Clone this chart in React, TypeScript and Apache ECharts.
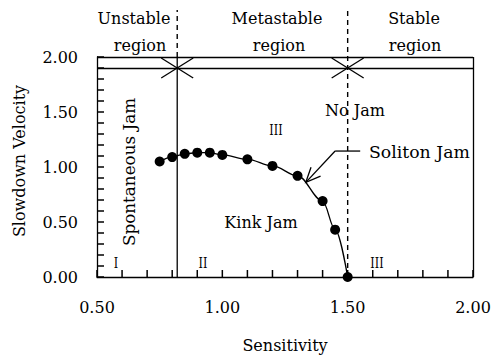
import React, { useEffect, useRef } from "react";
import * as echarts from "echarts";

const sensitivity = [0.75, 0.8, 0.85, 0.9, 0.95, 1.0, 1.1, 1.2, 1.3, 1.4, 1.45, 1.5];
const velocity = [1.05, 1.09, 1.12, 1.13, 1.13, 1.11, 1.07, 1.01, 0.92, 0.69, 0.43, 0.0];
const boundaries = [
  [0.82, 0],
  [1.5, 1],
];
const xTickValues = [0.5, 0.6, 0.7, 0.8, 0.9, 1.0, 1.1, 1.2, 1.3, 1.4, 1.5, 1.6, 1.7, 1.8, 1.9, 2.0];
const yTickValues = [0, 0.1, 0.2, 0.3, 0.4, 0.5, 0.6, 0.7, 0.8, 0.9, 1.0, 1.1, 1.2, 1.3, 1.4, 1.5, 1.6, 1.7, 1.8, 1.9, 2.0];
const bandLevel = 1.9;
const arrowTail = [1.45, 1.145];
const arrowEnd = [1.55, 1.145];
const arrowTip = [1.333, 0.86];

const FONT = "DejaVu Serif";

function txt(text: string, x: number, y: number, size = 16, scale = 1.0, align = "center", rotation = 0) {
  return {
    type: "text",
    x,
    y,
    rotation,
    scaleX: scale,
    silent: true,
    style: {
      text,
      fill: "#000",
      fontSize: size,
      fontFamily: FONT,
      align,
      verticalAlign: "middle",
      textAlign: align,
      textVerticalAlign: "middle",
    },
  };
}

export default function App() {
  const ref = useRef<HTMLDivElement>(null);
  useEffect(() => {
    if (!ref.current) return;
    const chart = echarts.init(ref.current, null, { renderer: "svg" });
    const lw = 1.3;
    const solid = { stroke: "#000", lineWidth: 1.3 };
    chart.setOption({
      animation: false,
      grid: { left: 97, top: 57, width: 376, height: 220 },
      xAxis: {
        type: "value",
        min: 0.5,
        max: 2.0,
        interval: 0.5,
        axisLine: { show: true, onZero: false, lineStyle: { color: "#000", width: lw } },
        axisTick: { show: false },
        splitLine: { show: false },
        axisLabel: {
          margin: 22,
          color: "#000",
          fontFamily: FONT,
          fontSize: 16,
          formatter: (v: number) => v.toFixed(2),
        },
      },
      yAxis: {
        type: "value",
        min: 0,
        max: 2.0,
        interval: 0.5,
        axisLine: { show: true, onZero: false, lineStyle: { color: "#000", width: lw } },
        axisTick: { show: false },
        splitLine: { show: false },
        axisLabel: {
          margin: 19,
          color: "#000",
          fontFamily: FONT,
          fontSize: 16,
          formatter: (v: number) => v.toFixed(2),
        },
      },
      series: [
        {
          type: "custom",
          coordinateSystem: "cartesian2d",
          clip: false,
          z: 5,
          data: xTickValues.map((v) => [v, 0]),
          renderItem: (params: any, api: any) => {
            const p = api.coord([api.value(0), 0]);
            return {
              type: "rect",
              shape: { x: p[0] - 0.75, y: p[1] - 7, width: 1.5, height: 7 },
              style: { fill: "#000" },
            };
          },
        },
        {
          type: "custom",
          coordinateSystem: "cartesian2d",
          clip: false,
          z: 5,
          data: yTickValues.map((v) => [0.5, v]),
          renderItem: (params: any, api: any) => {
            const p = api.coord([0.5, api.value(1)]);
            return {
              type: "rect",
              shape: { x: p[0], y: p[1] - 0.75, width: 7, height: 1.5 },
              style: { fill: "#000" },
            };
          },
        },
        {
          type: "custom",
          coordinateSystem: "cartesian2d",
          clip: false,
          data: boundaries,
          renderItem: (params: any, api: any) => {
            const x = api.value(0);
            const kind = api.value(1);
            const bottom = api.coord([x, 0]);
            const top = api.coord([x, 2.0]);
            const cross = api.coord([x, bandLevel]);
            const children: any[] = [];
            const dash = { stroke: "#000", lineWidth: 1.4, lineDash: [5, 4] };
            if (kind === 0) {
              children.push({ type: "line", shape: { x1: bottom[0], y1: bottom[1], x2: top[0], y2: top[1] }, style: solid });
              children.push({ type: "line", shape: { x1: top[0], y1: top[1], x2: top[0], y2: 10 }, style: dash });
            } else {
              children.push({ type: "line", shape: { x1: bottom[0], y1: bottom[1], x2: top[0], y2: 10 }, style: dash });
            }
            children.push({ type: "line", shape: { x1: cross[0] - 16, y1: cross[1] - 10, x2: cross[0] + 16, y2: cross[1] + 10 }, style: solid });
            children.push({ type: "line", shape: { x1: cross[0] - 16, y1: cross[1] + 10, x2: cross[0] + 16, y2: cross[1] - 10 }, style: solid });
            if (kind === 1) {
              const tail = api.coord(arrowTail);
              const end = api.coord(arrowEnd);
              const tip = api.coord(arrowTip);
              const ang = Math.atan2(tail[1] - tip[1], tail[0] - tip[0]);
              const wl = 16;
              const spread = 0.42;
              children.push({ type: "line", shape: { x1: end[0], y1: end[1], x2: tail[0], y2: tail[1] }, style: solid });
              children.push({ type: "line", shape: { x1: tail[0], y1: tail[1], x2: tip[0], y2: tip[1] }, style: solid });
              children.push({
                type: "polyline",
                shape: {
                  points: [
                    [tip[0] + wl * Math.cos(ang - spread), tip[1] + wl * Math.sin(ang - spread)],
                    [tip[0], tip[1]],
                    [tip[0] + wl * Math.cos(ang + spread), tip[1] + wl * Math.sin(ang + spread)],
                  ],
                },
                style: { stroke: "#000", lineWidth: 1.3, fill: "none" },
              });
            }
            return { type: "group", children };
          },
        },
        {
          type: "line",
          z: 3,
          data: sensitivity.map((s, i) => [s, velocity[i]]),
          smooth: 0.35,
          smoothMonotone: "x",
          symbol: "circle",
          symbolSize: 10,
          itemStyle: { color: "#000" },
          lineStyle: { color: "#000", width: 1.3 },
          markLine: {
            silent: true,
            symbol: "none",
            label: { show: false },
            lineStyle: { color: "#000", type: "solid", width: lw },
            data: [{ yAxis: bandLevel }, { yAxis: 2.0 }, { xAxis: 2.0 }],
          },
        },
      ],
      graphic: [
        txt("Unstable", 134, 18),
        txt("region", 140, 45),
        txt("Metastable", 277, 18),
        txt("region", 279, 45),
        txt("Stable", 414, 18),
        txt("region", 415, 45),
        txt("No Jam", 355, 110),
        txt("III", 276, 130, 14, 0.8),
        txt("Soliton Jam", 369, 153, 16, 1.08, "left"),
        txt("Kink Jam", 261, 222),
        txt("Spontaneous Jam", 130, 172, 16, 1.05, "center", Math.PI / 2),
        txt("Slowdown Velocity", 19, 161, 16, 1.0, "center", Math.PI / 2),
        txt("Sensitivity", 285, 345),
        txt("I", 116, 263, 14, 0.8),
        txt("II", 203, 263, 14, 0.8),
        txt("III", 377, 263, 14, 0.8),
      ],
    });
    return () => chart.dispose();
  }, []);
  return <div ref={ref} style={{ width: 497, height: 358, position: "absolute", left: 0, top: 0, background: "#fff" }} />;
}
